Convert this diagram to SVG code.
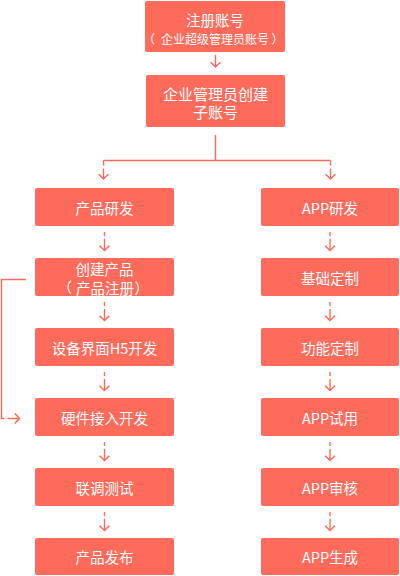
<svg xmlns="http://www.w3.org/2000/svg" width="400" height="576" viewBox="0 0 400 576">
<style>
.box{fill:#FF6B5B;}
.t{fill:#FFFFFF;font-family:"Noto Sans CJK SC","Noto Sans",sans-serif;font-size:14.5px;text-anchor:middle;dominant-baseline:central;}
.l{text-anchor:start;}
.s{font-size:12px;}
.b{font-size:15px;}
.c{fill:none;stroke:#FF6B5B;stroke-width:1.4;}
</style>
<defs>
<marker id="chev" markerUnits="userSpaceOnUse" viewBox="0 0 6 11" markerWidth="6" markerHeight="11" refX="5.3" refY="5.5" orient="auto" overflow="visible">
<path d="M0.6,0.6 L5.3,5.5 L0.6,10.4" fill="none" stroke="#FF6B5B" stroke-width="1.5"/>
</marker>
</defs>
<rect width="400" height="576" fill="#FFFFFF"/>
<g id="connectors">
<path class="c" d="M215.5,55 V67" marker-end="url(#chev)"/>
<path class="c" d="M215.5,135 V160.5 M103.5,160.5 H330.5"/>
<path class="c" d="M103.5,160.5 V165.5 M103.5,168.5 V179" marker-end="url(#chev)"/>
<path class="c" d="M330.5,160.5 V165.5 M330.5,168.5 V179" marker-end="url(#chev)"/>
<path class="c" d="M104.5,232 V236 M104.5,239 V250.5" marker-end="url(#chev)"/>
<path class="c" d="M104.5,302 V306 M104.5,309 V320.5" marker-end="url(#chev)"/>
<path class="c" d="M104.5,372 V376 M104.5,379 V390.5" marker-end="url(#chev)"/>
<path class="c" d="M104.5,442 V446 M104.5,449 V460.5" marker-end="url(#chev)"/>
<path class="c" d="M104.5,512 V516 M104.5,519 V530.5" marker-end="url(#chev)"/>
<path class="c" d="M330,232 V236 M330,239 V250.5" marker-end="url(#chev)"/>
<path class="c" d="M330,302 V306 M330,309 V320.5" marker-end="url(#chev)"/>
<path class="c" d="M330,372 V376 M330,379 V390.5" marker-end="url(#chev)"/>
<path class="c" d="M330,442 V446 M330,449 V460.5" marker-end="url(#chev)"/>
<path class="c" d="M330,512 V516 M330,519 V530.5" marker-end="url(#chev)"/>
<path class="c" d="M26,279.5 H1.5 V418.5 H4.5 M7.5,418.5 H19.5" marker-end="url(#chev)"/>
</g>
<g id="n-register">
<rect class="box" x="145" y="1" width="140" height="51" rx="2"/>
<text class="t" x="215" y="19.5">注册账号</text>
<text class="t s l" x="143" y="38">（<tspan x="161">企业超级管理员账号</tspan><tspan x="271.5">）</tspan></text>
</g>
<g id="n-subaccount">
<rect class="box" x="146" y="75" width="139" height="52" rx="2"/>
<text class="t b" x="215.5" y="93">企业管理员创建</text>
<text class="t b" x="215.5" y="111">子账号</text>
</g>
<g id="n-product-dev">
<rect class="box" x="35" y="188" width="139" height="38" rx="2"/>
<text class="t" x="104.5" y="207">产品研发</text>
</g>
<g id="n-create-product">
<rect class="box" x="35" y="258" width="139" height="38" rx="2"/>
<text class="t" x="104.5" y="268.5">创建产品</text>
<text class="t l" x="57.5" y="286.5">（<tspan x="76">产品注册</tspan><tspan x="134.5">）</tspan></text>
</g>
<g id="n-h5">
<rect class="box" x="35" y="328" width="139" height="38" rx="2"/>
<text class="t" x="104.5" y="347">设备界面H5开发</text>
</g>
<g id="n-hardware">
<rect class="box" x="35" y="398" width="139" height="38" rx="2"/>
<text class="t" x="104.5" y="417">硬件接入开发</text>
</g>
<g id="n-test">
<rect class="box" x="35" y="468" width="139" height="38" rx="2"/>
<text class="t" x="104.5" y="487">联调测试</text>
</g>
<g id="n-release">
<rect class="box" x="35" y="538" width="139" height="37" rx="2"/>
<text class="t" x="104.5" y="556.5">产品发布</text>
</g>
<g id="n-app-dev">
<rect class="box" x="261" y="188" width="138" height="38" rx="2"/>
<text class="t" x="330" y="207">APP研发</text>
</g>
<g id="n-basic">
<rect class="box" x="261" y="258" width="138" height="38" rx="2"/>
<text class="t" x="330" y="277">基础定制</text>
</g>
<g id="n-feature">
<rect class="box" x="261" y="328" width="138" height="38" rx="2"/>
<text class="t" x="330" y="347">功能定制</text>
</g>
<g id="n-trial">
<rect class="box" x="261" y="398" width="138" height="38" rx="2"/>
<text class="t" x="330" y="417">APP试用</text>
</g>
<g id="n-review">
<rect class="box" x="261" y="468" width="138" height="38" rx="2"/>
<text class="t" x="330" y="487">APP审核</text>
</g>
<g id="n-generate">
<rect class="box" x="261" y="538" width="138" height="37" rx="2"/>
<text class="t" x="330" y="556.5">APP生成</text>
</g>
</svg>
